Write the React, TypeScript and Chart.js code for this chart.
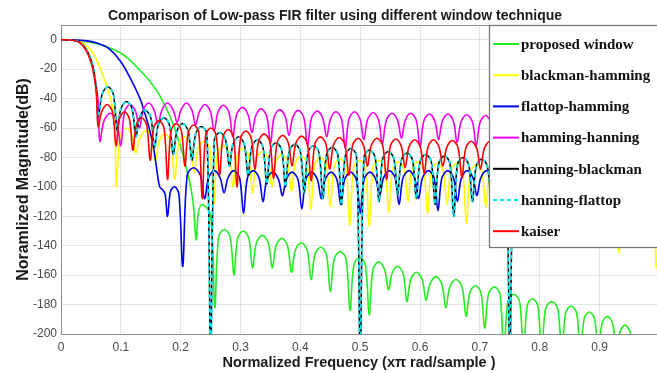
import React, { useEffect, useRef } from "react";
import { Chart, registerables } from "chart.js";

Chart.register(...registerables);

type Pt = [number, number];

const titleText = "Comparison of Low-pass FIR filter using different window technique";
const xAxisTitle = "Normalized Frequency (x\u03c0 rad/sample )";
const yAxisTitle = "Noramlized Magnitude(dB)";

const seriesNames = [
  "proposed window",
  "blackman-hamming",
  "flattop-hamming",
  "hamming-hanning",
  "hanning-blackman",
  "hanning-flattop",
  "kaiser",
];
const seriesColors = ["#22ee22", "#ffff00", "#0000f0", "#f000f0", "#000000", "#00e8f0", "#ff0000"];

const xTickValues = [0, 0.1, 0.2, 0.3, 0.4, 0.5, 0.6, 0.7, 0.8, 0.9];
const xTickLabels = ["0", "0.1", "0.2", "0.3", "0.4", "0.5", "0.6", "0.7", "0.8", "0.9"];
const yTickValues = [0, -20, -40, -60, -80, -100, -120, -140, -160, -180, -200];
const yTickLabels = ["0", "-20", "-40", "-60", "-80", "-100", "-120", "-140", "-160", "-180", "-200"];

const proposedWindow: Pt[] = [
  [0, 0], [0.03, -0.6], [0.06, -2.8], [0.09, -7], [0.11, -12], [0.13, -20], [0.15, -29], [0.165, -38],
  [0.182, -52], [0.198, -70], [0.21, -88], [0.22, -108], [0.226, -136],
  [0.2295, -118], [0.236, -112], [0.25, -119], [0.257, -182],
  [0.2634, -134], [0.273, -129], [0.2826, -134], [0.289, -160],
  [0.2952, -135], [0.3045, -130], [0.3138, -135], [0.32, -155],
  [0.3266, -138], [0.3365, -133], [0.3464, -138], [0.353, -155],
  [0.3594, -140], [0.369, -135], [0.3786, -140], [0.385, -158],
  [0.3916, -143], [0.4015, -138], [0.4114, -143], [0.418, -163],
  [0.4244, -146], [0.434, -141], [0.4436, -146], [0.45, -171],
  [0.4566, -149], [0.4665, -144], [0.4764, -149], [0.483, -184],
  [0.4894, -153], [0.499, -148], [0.5086, -153], [0.515, -187],
  [0.5214, -156], [0.531, -151], [0.5406, -156], [0.547, -170],
  [0.5532, -159], [0.5625, -154], [0.5718, -159], [0.578, -178],
  [0.5844, -163], [0.594, -158], [0.6036, -163], [0.61, -177],
  [0.6166, -166], [0.6265, -161], [0.6364, -166], [0.643, -182],
  [0.6498, -168], [0.66, -163], [0.6702, -168], [0.677, -188],
  [0.6832, -172], [0.6925, -167], [0.7018, -172], [0.708, -196],
  [0.7144, -173], [0.724, -168], [0.7336, -173], [0.74, -215],
  [0.7466, -178], [0.7565, -173], [0.7664, -178], [0.773, -215],
  [0.779, -181], [0.788, -176], [0.797, -181], [0.803, -215],
  [0.8098, -183], [0.82, -178], [0.8302, -183], [0.837, -215],
  [0.8432, -186], [0.8525, -181], [0.8618, -186], [0.868, -215],
  [0.874, -190], [0.883, -185], [0.892, -190], [0.898, -215],
  [0.904, -193], [0.913, -188], [0.922, -193], [0.928, -215],
  [0.9338, -199], [0.9425, -194], [0.9512, -199], [0.957, -215],
  [0.973, -206], [0.99, -215],
];

const blackmanHamming: Pt[] = [
  [0, 0], [0.02, -0.3], [0.035, -2], [0.045, -5], [0.055, -10], [0.065, -19], [0.075, -30], [0.082, -39],
  [0.087, -48], [0.09, -58], [0.0925, -100],
  [0.099, -65], [0.1088, -60], [0.1185, -65], [0.125, -77],
  [0.1315, -67], [0.1413, -62], [0.151, -67], [0.1575, -82],
  [0.164, -69], [0.1738, -64], [0.1835, -69], [0.19, -95],
  [0.1965, -71], [0.2063, -66], [0.216, -71], [0.2225, -90],
  [0.229, -74], [0.2388, -69], [0.2485, -74], [0.255, -112],
  [0.2615, -77], [0.2713, -72], [0.281, -77], [0.2875, -100],
  [0.294, -79], [0.3038, -74], [0.3135, -79], [0.32, -104],
  [0.3265, -81], [0.3363, -76], [0.346, -81], [0.3525, -100],
  [0.359, -83], [0.3688, -78], [0.3785, -83], [0.385, -103],
  [0.3915, -84], [0.4013, -79], [0.411, -84], [0.4175, -115],
  [0.424, -85], [0.4338, -80], [0.4435, -85], [0.45, -113],
  [0.4565, -86], [0.4663, -81], [0.476, -86], [0.4825, -126],
  [0.489, -87], [0.4988, -82], [0.5085, -87], [0.515, -127],
  [0.5215, -87], [0.5313, -82], [0.541, -87], [0.5475, -117],
  [0.554, -88], [0.5638, -83], [0.5735, -88], [0.58, -110],
  [0.5865, -88], [0.5963, -83], [0.606, -88], [0.6125, -118],
  [0.619, -89], [0.6288, -84], [0.6385, -89], [0.645, -112],
  [0.6515, -89], [0.6613, -84], [0.671, -89], [0.6775, -125],
  [0.684, -90], [0.6938, -85], [0.7035, -90], [0.71, -114],
  [0.7165, -90], [0.7263, -85], [0.736, -90], [0.7425, -120],
  [0.749, -91], [0.7588, -86], [0.7685, -91], [0.775, -112],
  [0.7815, -91], [0.7913, -86], [0.801, -91], [0.8075, -118],
  [0.814, -92], [0.8238, -87], [0.8335, -92], [0.84, -110],
  [0.8465, -92], [0.8563, -87], [0.866, -92], [0.8725, -115],
  [0.879, -93], [0.8888, -88], [0.8985, -93], [0.905, -112],
  [0.9104, -93], [0.9185, -88], [0.9266, -93], [0.932, -145],
  [0.9383, -94], [0.9478, -89], [0.9572, -94], [0.9635, -115],
  [0.9698, -94], [0.9793, -89], [0.9887, -94], [0.995, -155],
  [1.0, -100],
];

const flattopHamming: Pt[] = [
  [0, 0], [0.02, -0.1], [0.04, -0.6], [0.06, -2.2], [0.08, -6], [0.1, -15], [0.118, -28], [0.132, -40],
  [0.14, -50], [0.148, -61], [0.155, -74], [0.16, -88], [0.165, -100], [0.17, -102], [0.174, -105],
  [0.178, -120], [0.183, -103], [0.19, -100], [0.197, -105], [0.2035, -154],
  [0.2108, -92], [0.2218, -87], [0.2327, -92], [0.24, -108],
  [0.2465, -94], [0.2563, -89], [0.266, -94], [0.2725, -104],
  [0.279, -94], [0.2888, -89], [0.2985, -94], [0.305, -118],
  [0.3115, -94], [0.3213, -89], [0.331, -94], [0.3375, -110],
  [0.344, -95], [0.3538, -90], [0.3635, -95], [0.37, -106],
  [0.3765, -95], [0.3863, -90], [0.396, -95], [0.4025, -115],
  [0.409, -95], [0.4188, -90], [0.4285, -95], [0.435, -108],
  [0.4415, -95], [0.4513, -90], [0.461, -95], [0.4675, -112],
  [0.474, -95], [0.4838, -90], [0.4935, -95], [0.5, -118],
  [0.5065, -95], [0.5163, -90], [0.526, -95], [0.5325, -106],
  [0.539, -94], [0.5488, -89], [0.5585, -94], [0.565, -112],
  [0.5715, -94], [0.5813, -89], [0.591, -94], [0.5975, -108],
  [0.604, -94], [0.6138, -89], [0.6235, -94], [0.63, -116],
  [0.6365, -94], [0.6463, -89], [0.656, -94], [0.6625, -110],
  [0.669, -94], [0.6788, -89], [0.6885, -94], [0.695, -106],
  [0.7015, -94], [0.7113, -89], [0.721, -94], [0.7275, -112],
  [0.734, -94], [0.7438, -89], [0.7535, -94], [0.76, -108],
];

const hammingHanning: Pt[] = [
  [0, 0], [0.02, -0.4], [0.032, -2], [0.043, -7.5], [0.052, -17], [0.058, -29], [0.062, -42], [0.065, -69],
  [0.072, -55], [0.0825, -50], [0.093, -55], [0.1, -72],
  [0.1062, -49], [0.1155, -44], [0.1248, -49], [0.131, -60],
  [0.1372, -48], [0.1465, -43], [0.1558, -48], [0.162, -58],
  [0.1684, -48], [0.178, -43], [0.1876, -48], [0.194, -56],
  [0.2002, -48], [0.2095, -43], [0.2188, -48], [0.225, -58],
  [0.2312, -49], [0.2405, -44], [0.2498, -49], [0.256, -62],
  [0.2622, -49.5], [0.2715, -44.5], [0.2808, -49.5], [0.287, -66],
  [0.2934, -51], [0.303, -46], [0.3126, -51], [0.319, -63],
  [0.3252, -52], [0.3345, -47], [0.3438, -52], [0.35, -70],
  [0.3562, -52.5], [0.3655, -47.5], [0.3748, -52.5], [0.381, -65],
  [0.3872, -53], [0.3965, -48], [0.4058, -53], [0.412, -72],
  [0.4184, -53.5], [0.428, -48.5], [0.4376, -53.5], [0.444, -66],
  [0.4502, -54], [0.4595, -49], [0.4688, -54], [0.475, -74],
  [0.4812, -54], [0.4905, -49], [0.4998, -54], [0.506, -68],
  [0.5122, -54.5], [0.5215, -49.5], [0.5308, -54.5], [0.537, -71],
  [0.5434, -55], [0.553, -50], [0.5626, -55], [0.569, -67],
  [0.5752, -55], [0.5845, -50], [0.5938, -55], [0.6, -73],
  [0.6062, -55.5], [0.6155, -50.5], [0.6248, -55.5], [0.631, -68],
  [0.6372, -55.5], [0.6465, -50.5], [0.6558, -55.5], [0.662, -70],
  [0.6684, -56], [0.678, -51], [0.6876, -56], [0.694, -72],
  [0.7002, -56.5], [0.7095, -51.5], [0.7188, -56.5], [0.725, -70],
  [0.7312, -57], [0.7405, -52], [0.7498, -57], [0.756, -72],
];

const hanningBlackman: Pt[] = [
  [0, 0], [0.02, -0.4], [0.032, -2], [0.043, -7], [0.052, -16], [0.057, -27], [0.06, -39], [0.0625, -52],
  [0.0688, -37], [0.0781, -32], [0.0875, -37], [0.0938, -62],
  [0.1, -47], [0.1094, -42], [0.1188, -47], [0.125, -66],
  [0.1313, -53], [0.1406, -48], [0.15, -53], [0.1563, -73],
  [0.1625, -58], [0.1719, -53], [0.1813, -58], [0.1875, -78],
  [0.1938, -62], [0.2031, -57], [0.2125, -62], [0.2188, -82],
  [0.225, -64], [0.2344, -59], [0.2438, -64], [0.25, -215],
  [0.2563, -68], [0.2656, -63], [0.275, -68], [0.2813, -86],
  [0.2875, -71], [0.2969, -66], [0.3063, -71], [0.3125, -92],
  [0.3188, -73], [0.3281, -68], [0.3375, -73], [0.3438, -98],
  [0.35, -75], [0.3594, -70], [0.3688, -75], [0.375, -100],
  [0.3813, -76], [0.3906, -71], [0.4, -76], [0.4063, -104],
  [0.4125, -77], [0.4219, -72], [0.4313, -77], [0.4375, -108],
  [0.4438, -78], [0.4531, -73], [0.4625, -78], [0.4688, -112],
  [0.475, -79], [0.4844, -74], [0.4938, -79], [0.5, -215],
  [0.5063, -80], [0.5156, -75], [0.525, -80], [0.5313, -110],
  [0.5375, -81], [0.5469, -76], [0.5563, -81], [0.5625, -105],
  [0.5688, -82], [0.5781, -77], [0.5875, -82], [0.5938, -108],
  [0.6, -83], [0.6094, -78], [0.6188, -83], [0.625, -112],
  [0.6313, -84], [0.6406, -79], [0.65, -84], [0.6563, -120],
  [0.6625, -85], [0.6719, -80], [0.6813, -85], [0.6875, -110],
  [0.6938, -86], [0.7031, -81], [0.7125, -86], [0.7188, -108],
  [0.725, -87], [0.7344, -82], [0.7438, -87], [0.75, -215],
  [0.7563, -88], [0.7656, -83], [0.775, -88], [0.7813, -100],
];

// read as coinciding with hanning-blackman in the picture
const hanningFlattop: Pt[] = hanningBlackman;

const kaiser: Pt[] = [
  [0, 0], [0.02, -0.4], [0.032, -2.2], [0.043, -8], [0.05, -15], [0.055, -24], [0.059, -36], [0.062, -59],
  [0.068, -49], [0.077, -44], [0.086, -49], [0.092, -72],
  [0.0976, -54], [0.106, -49], [0.1144, -54], [0.12, -75],
  [0.1258, -58], [0.1345, -53], [0.1432, -58], [0.149, -82],
  [0.1548, -60], [0.1635, -55], [0.1722, -60], [0.178, -95],
  [0.1838, -62], [0.1925, -57], [0.2012, -62], [0.207, -86],
  [0.2128, -63], [0.2215, -58], [0.2302, -63], [0.236, -108],
  [0.2418, -65], [0.2505, -60], [0.2592, -65], [0.265, -92],
  [0.2708, -66], [0.2795, -61], [0.2882, -66], [0.294, -100],
  [0.3, -67], [0.309, -62], [0.318, -67], [0.324, -88],
  [0.3302, -69], [0.3395, -64], [0.3488, -69], [0.355, -94],
  [0.3612, -70], [0.3705, -65], [0.3798, -70], [0.386, -86],
  [0.3924, -70.5], [0.402, -65.5], [0.4116, -70.5], [0.418, -96],
  [0.4242, -71], [0.4335, -66], [0.4428, -71], [0.449, -88],
  [0.4554, -71.5], [0.465, -66.5], [0.4746, -71.5], [0.481, -92],
  [0.4872, -72], [0.4965, -67], [0.5058, -72], [0.512, -86],
  [0.5184, -72], [0.528, -67], [0.5376, -72], [0.544, -95],
  [0.5502, -72.5], [0.5595, -67.5], [0.5688, -72.5], [0.575, -87],
  [0.5814, -73], [0.591, -68], [0.6006, -73], [0.607, -91],
  [0.6132, -73], [0.6225, -68], [0.6318, -73], [0.638, -86],
  [0.6444, -73.5], [0.654, -68.5], [0.6636, -73.5], [0.67, -94],
  [0.6762, -74], [0.6855, -69], [0.6948, -74], [0.701, -88],
  [0.7074, -74], [0.717, -69], [0.7266, -74], [0.733, -92],
  [0.7392, -74.5], [0.7485, -69.5], [0.7578, -74.5], [0.764, -88],
];

const seriesData: Pt[][] = [
  proposedWindow,
  blackmanHamming,
  flattopHamming,
  hammingHanning,
  hanningBlackman,
  hanningFlattop,
  kaiser,
];

const framePlugin = {
  id: "frameLegendTitle",
  afterDraw(chart: any) {
    const { ctx, chartArea } = chart;
    ctx.save();
    // top frame line
    ctx.strokeStyle = "#8c8c8c";
    ctx.lineWidth = 1;
    ctx.beginPath();
    ctx.moveTo(chartArea.left, chartArea.top + 0.5);
    ctx.lineTo(chartArea.right, chartArea.top + 0.5);
    ctx.stroke();

    // title
    ctx.fillStyle = "#1a1a1a";
    ctx.font = "bold 14px 'Liberation Sans', Arial, sans-serif";
    ctx.textAlign = "center";
    ctx.textBaseline = "alphabetic";
    ctx.fillText(titleText, 335, 20);

    // legend box
    const bx = 489, by = chartArea.top, bw = 200, bh = 222;
    ctx.fillStyle = "#ffffff";
    ctx.fillRect(bx, by, bw, bh);
    ctx.strokeStyle = "#7a7a7a";
    ctx.lineWidth = 1.3;
    ctx.strokeRect(bx + 0.5, by + 0.5, bw, bh);

    ctx.font = "bold 15px 'Liberation Serif', 'Times New Roman', serif";
    ctx.textAlign = "left";
    ctx.textBaseline = "middle";
    chart.data.datasets.forEach((ds: any, i: number) => {
      const y = 44 + i * 31.2;
      ctx.strokeStyle = ds.borderColor;
      ctx.lineWidth = 2;
      ctx.setLineDash(ds.borderDash || []);
      ctx.beginPath();
      ctx.moveTo(493, y);
      ctx.lineTo(519, y);
      ctx.stroke();
      ctx.setLineDash([]);
      ctx.fillStyle = "#111";
      ctx.fillText(ds.label, 521, y + 1);
    });
    ctx.restore();
  },
};

export default function App() {
  const ref = useRef<HTMLCanvasElement | null>(null);

  useEffect(() => {
    const canvas = ref.current;
    if (!canvas) return;
    const datasets = seriesData.map((pts, i) => ({
      label: seriesNames[i],
      data: pts.map(([x, y]) => ({ x, y })),
      borderColor: seriesColors[i],
      backgroundColor: seriesColors[i],
      borderWidth: i === 5 ? 1.8 : i === 4 ? 1.5 : 1.6,
      borderDash: i === 5 ? [4, 3] : undefined,
      pointRadius: 0,
      fill: false,
      tension: 0.35,
      order: seriesData.length - i,
    }));

    const chart = new Chart(canvas, {
      type: "line",
      data: { datasets } as any,
      options: {
        responsive: false,
        animation: false,
        devicePixelRatio: 1,
        events: [],
        layout: { padding: { left: 8, top: 25, right: 0, bottom: 0 } },
        plugins: {
          legend: { display: false },
          title: { display: false },
          tooltip: { enabled: false },
        },
        scales: {
          x: {
            type: "linear",
            min: 0,
            max: 0.996,
            afterFit: (scale: any) => {
              scale.height = 39;
            },
            afterBuildTicks: (scale: any) => {
              scale.ticks = xTickValues.map((v) => ({ value: v }));
            },
            ticks: {
              callback: (_v: any, idx: number) => xTickLabels[idx],
              color: "#4a4a4a",
              font: { family: "'Liberation Sans', Arial, sans-serif", size: 12 },
              padding: 6,
              maxRotation: 0,
              autoSkip: false,
            },
            grid: { color: "rgba(0,0,0,0.10)", drawTicks: false },
            border: { color: "#8c8c8c", width: 1 },
            title: {
              display: true,
              text: xAxisTitle,
              color: "#1a1a1a",
              font: { family: "'Liberation Sans', Arial, sans-serif", size: 14.5, weight: "bold" },
              padding: { top: 0, bottom: 1 },
            },
          },
          y: {
            type: "linear",
            min: -200,
            max: 10,
            afterFit: (scale: any) => {
              scale.width = 53;
            },
            afterBuildTicks: (scale: any) => {
              scale.ticks = yTickValues.map((v) => ({ value: v }));
            },
            ticks: {
              callback: (_v: any, idx: number) => yTickLabels[idx],
              color: "#4a4a4a",
              font: { family: "'Liberation Sans', Arial, sans-serif", size: 12 },
              padding: 4,
              autoSkip: false,
            },
            grid: { color: "rgba(0,0,0,0.10)", drawTicks: false },
            border: { color: "#8c8c8c", width: 1 },
            title: {
              display: true,
              text: yAxisTitle,
              color: "#1a1a1a",
              font: { family: "'Liberation Sans', Arial, sans-serif", size: 16, weight: "bold" },
              padding: { top: 6, bottom: 0 },
            },
          },
        },
      } as any,
      plugins: [framePlugin],
    });
    return () => chart.destroy();
  }, []);

  return (
    <div style={{ position: "absolute", left: 0, top: 0, width: 657, height: 373, background: "#fff", overflow: "hidden" }}>
      <canvas ref={ref} width={657} height={373} style={{ display: "block", width: 657, height: 373 }} />
    </div>
  );
}
